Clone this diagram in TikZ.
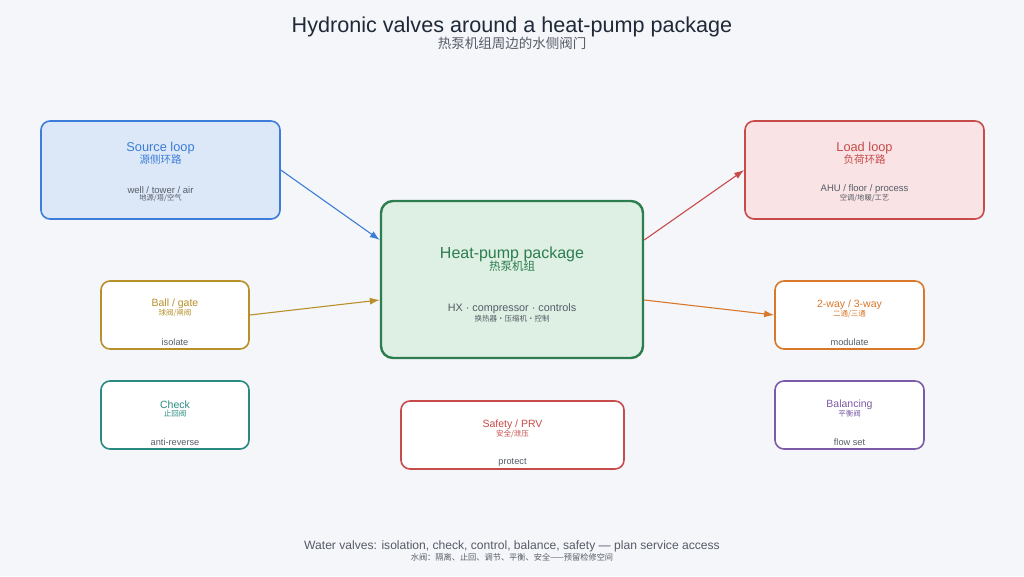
\documentclass[tikz,border=0pt]{standalone}
\usepackage{fontspec}
\setmainfont{Liberation Sans}
\newfontfamily\cjk{Noto Sans CJK SC}
\usetikzlibrary{arrows.meta}
\definecolor{bg}{HTML}{F5F6FA}
\definecolor{srcC}{HTML}{3B7DD8}
\definecolor{srcF}{HTML}{DCE8F8}
\definecolor{loadC}{HTML}{C84B4B}
\definecolor{loadF}{HTML}{F9E3E4}
\definecolor{hpC}{HTML}{2E7D4F}
\definecolor{hpF}{HTML}{DDF0E3}
\definecolor{goldC}{HTML}{B8902A}
\definecolor{tealC}{HTML}{2A8A80}
\definecolor{orgC}{HTML}{D9782A}
\definecolor{purC}{HTML}{7B5AA8}
\definecolor{subC}{HTML}{555B66}
\definecolor{titC}{HTML}{1F2937}
\tikzset{
  box/.style={draw, rounded corners=9pt, line width=1.6pt, inner sep=0pt},
  txt/.style={inner sep=0pt, anchor=center, yshift=-1.5pt},
  conn/.style={line width=1.1pt, -{Latex[length=10pt,width=7pt]}},
}
\begin{document}
\begin{tikzpicture}[x=1pt,y=-1pt]
\fill[bg] (0,0) rectangle (1024,576);
\useasboundingbox (0,0) rectangle (1024,576);
% title
\node[txt, text=titC, font=\fontsize{21.6}{23}\selectfont] (title) at (512,25) {Hydronic valves around a heat-pump package};
\node[txt, text=subC, font=\cjk\fontsize{13.5}{14}\selectfont] (subtitle) at (512,42) {热泵机组周边的水侧阀门};
% boxes
\node[box, draw=srcC, fill=srcF, minimum width=239pt, minimum height=98pt] (src) at (160.5,170) {};
\node[box, draw=loadC, fill=loadF, minimum width=239pt, minimum height=98pt] (load) at (864.5,170) {};
\node[box, draw=hpC, fill=hpF, line width=2.4pt, rounded corners=12pt, minimum width=262pt, minimum height=157pt] (hp) at (512,279.5) {};
\node[box, draw=goldC, fill=white, minimum width=148pt, minimum height=68pt] (ball) at (175,315) {};
\node[box, draw=tealC, fill=white, minimum width=148pt, minimum height=68pt] (check) at (175,415) {};
\node[box, draw=loadC, fill=white, minimum width=223pt, minimum height=68pt] (safe) at (512.5,435) {};
\node[box, draw=orgC, fill=white, minimum width=149pt, minimum height=68pt] (way) at (849.5,315) {};
\node[box, draw=purC, fill=white, minimum width=149pt, minimum height=68pt] (bal) at (849.5,415) {};
% source text
\node[txt, text=srcC, font=\fontsize{12.8}{13}\selectfont] (srcT) at (160.5,147) {Source loop};
\node[txt, text=srcC, font=\cjk\fontsize{10.5}{11}\selectfont] (srcTc) at (160.5,158) {源侧环路};
\node[txt, text=subC, font=\fontsize{9.5}{10}\selectfont] (srcS) at (160.5,188.5) {well / tower / air};
\node[txt, text=subC, font=\cjk\fontsize{7.3}{8}\selectfont] (srcSc) at (160.5,196.5) {地源/塔/空气};
% load text
\node[txt, text=loadC, font=\fontsize{12.8}{13}\selectfont] (loadT) at (864.5,147) {Load loop};
\node[txt, text=loadC, font=\cjk\fontsize{10.5}{11}\selectfont] (loadTc) at (864.5,158) {负荷环路};
\node[txt, text=subC, font=\fontsize{9.5}{10}\selectfont] (loadS) at (864.5,188) {AHU / floor / process};
\node[txt, text=subC, font=\cjk\fontsize{7.3}{8}\selectfont] (loadSc) at (864.5,196.5) {空调/地暖/工艺};
% hp text
\node[txt, text=hpC, font=\fontsize{16}{17}\selectfont] (hpT) at (512,253) {Heat-pump package};
\node[txt, text=hpC, font=\cjk\fontsize{11.5}{12}\selectfont] (hpTc) at (512,265) {热泵机组};
\node[txt, text=subC, font=\fontsize{10.8}{11}\selectfont] (hpS) at (512,307.5) {HX · compressor · controls};
\node[txt, text=subC, font=\cjk\fontsize{7.5}{8}\selectfont] (hpSc) at (512,317.5) {换热器·压缩机·控制};
% ball
\node[txt, text=goldC, font=\fontsize{10.5}{11}\selectfont] (ballT) at (175,302.5) {Ball / gate};
\node[txt, text=goldC, font=\cjk\fontsize{7.5}{8}\selectfont] (ballTc) at (175,311.5) {球阀/闸阀};
\node[txt, text=subC, font=\fontsize{9.2}{10}\selectfont] (ballS) at (175,340.5) {isolate};
% check
\node[txt, text=tealC, font=\fontsize{10.5}{11}\selectfont] (checkT) at (175,403.5) {Check};
\node[txt, text=tealC, font=\cjk\fontsize{7.5}{8}\selectfont] (checkTc) at (175,412) {止回阀};
\node[txt, text=subC, font=\fontsize{9.2}{10}\selectfont] (checkS) at (175,440.5) {anti-reverse};
% safety
\node[txt, text=loadC, font=\fontsize{10.5}{11}\selectfont] (safeT) at (512.5,423) {Safety / PRV};
\node[txt, text=loadC, font=\cjk\fontsize{7.5}{8}\selectfont] (safeTc) at (512.5,432) {安全/泄压};
\node[txt, text=subC, font=\fontsize{9.2}{10}\selectfont] (safeS) at (512.5,460.5) {protect};
% 2-way
\node[txt, text=orgC, font=\fontsize{10.5}{11}\selectfont] (wayT) at (849.5,303.5) {2-way / 3-way};
\node[txt, text=orgC, font=\cjk\fontsize{7.5}{8}\selectfont] (wayTc) at (849.5,313) {二通/三通};
\node[txt, text=subC, font=\fontsize{9.2}{10}\selectfont] (wayS) at (849.5,340.5) {modulate};
% balancing
\node[txt, text=purC, font=\fontsize{10.5}{11}\selectfont] (balT) at (849.5,403) {Balancing};
\node[txt, text=purC, font=\cjk\fontsize{7.5}{8}\selectfont] (balTc) at (849.5,412) {平衡阀};
\node[txt, text=subC, font=\fontsize{9.2}{10}\selectfont] (balS) at (849.5,440.5) {flow set};
% footer
\node[txt, text=subC, font=\fontsize{12.1}{13}\selectfont] (foot) at (512,545) {Water valves: isolation, check, control, balance, safety — plan service access};
\node[txt, text=subC, font=\cjk\fontsize{8.2}{9}\selectfont] (footc) at (512,556) {水阀：隔离、止回、调节、平衡、安全——预留检修空间};
% connectors
\draw[conn, srcC] (src.east) -- ([yshift=39.5pt]hp.west);
\draw[conn, goldC] (ball.east) -- ([yshift=-20.5pt]hp.west);
\draw[conn, loadC] ([yshift=39.5pt]hp.east) -- (load.west);
\draw[conn, orgC] ([yshift=-20.5pt]hp.east) -- (way.west);
\end{tikzpicture}
\end{document}
